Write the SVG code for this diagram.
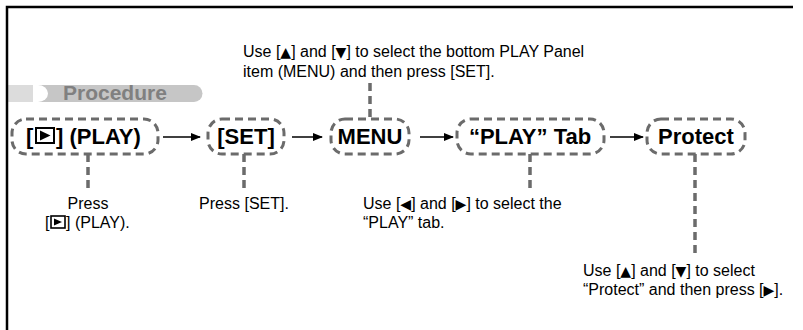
<svg xmlns="http://www.w3.org/2000/svg" width="803" height="330" viewBox="0 0 803 330">
<style>
  text { font-family: "Liberation Sans", Arial, sans-serif; fill: #000; }
  .node-label { font-size: 22px; font-weight: bold; }
  .desc { font-size: 16px; }
  .tri { font-family: "DejaVu Sans", sans-serif; font-size: 14px; }
  .outline { fill: none; stroke: #6b6b6b; stroke-width: 3; stroke-dasharray: 8 5; }
  .lead { fill: none; stroke: #6b6b6b; stroke-width: 3.5; stroke-dasharray: 8 5; }
  .arrow { fill: none; stroke: #000; stroke-width: 1.5; marker-end: url(#ah); }
  .icon { fill: none; stroke: #000; }
</style>
<defs>
  <marker id="ah" viewBox="0 0 10 8" refX="9" refY="4" markerWidth="10" markerHeight="8" markerUnits="userSpaceOnUse" orient="auto">
    <path d="M0,0 L10,4 L0,8 Z" fill="#000"/>
  </marker>
</defs>
<rect width="803" height="330" fill="#fff"/>

<g id="procedure-tab">
  <path d="M8.5,85 H194 A8.5,8.5 0 0 1 194,102 H8.5 Z" fill="#c6c6c6"/>
  <rect x="8.5" y="85" width="24.5" height="17" fill="#dcdcdc"/>
  <path d="M33,85 H38 A10,8.5 0 0 1 38,102 H33 Z" fill="#fff"/>
  <text x="63" y="100" style="font-size:21px;font-weight:bold;fill:#808080">Procedure</text>
</g>
<path d="M7,330 V7 H793" fill="none" stroke="#000" stroke-width="2.5"/>

<g id="connectors">
  <line class="arrow" x1="163" y1="137" x2="200" y2="137"/>
  <line class="arrow" x1="292" y1="137" x2="322" y2="137"/>
  <line class="arrow" x1="420" y1="137" x2="453" y2="137"/>
  <line class="arrow" x1="610" y1="137" x2="643" y2="137"/>
  <line class="lead" x1="88" y1="154" x2="88" y2="192"/>
  <line class="lead" x1="244" y1="154" x2="244" y2="192"/>
  <line class="lead" x1="370" y1="83" x2="370" y2="118"/>
  <line class="lead" x1="530" y1="154" x2="530" y2="190"/>
  <line class="lead" x1="695" y1="154" x2="695" y2="254"/>
</g>

<g id="node-play">
  <rect class="outline" x="12" y="119" width="146" height="35" rx="14"/>
  <text class="node-label" x="26" y="144">[</text>
  <rect class="icon" x="36" y="128" width="18" height="15" stroke-width="2"/>
  <path d="M40,130.5 L40,140.5 L50.5,135.5 Z" fill="#000"/>
  <text class="node-label" x="56" y="144">] (PLAY)</text>
</g>

<g id="node-set">
  <rect class="outline" x="208" y="119" width="76" height="35" rx="14"/>
  <text class="node-label" x="246" y="144" text-anchor="middle">[SET]</text>
</g>

<g id="node-menu">
  <rect class="outline" x="331" y="119" width="78" height="35" rx="14"/>
  <text class="node-label" x="370" y="144" text-anchor="middle">MENU</text>
</g>

<g id="node-playtab">
  <rect class="outline" x="457" y="119" width="147" height="35" rx="14"/>
  <text class="node-label" x="530" y="144" text-anchor="middle">“PLAY” Tab</text>
</g>

<g id="node-protect">
  <rect class="outline" x="647" y="119" width="98" height="35" rx="14"/>
  <text class="node-label" x="696" y="144" text-anchor="middle">Protect</text>
</g>

<g id="note-menu">
  <text class="desc" x="243" y="57">Use [<tspan class="tri">▲</tspan>] and [<tspan class="tri">▼</tspan>] to select the bottom PLAY Panel</text>
  <text class="desc" x="243" y="77">item (MENU) and then press [SET].</text>
</g>

<g id="note-play">
  <text class="desc" x="88" y="209" text-anchor="middle">Press</text>
  <text class="desc" x="45" y="228">[</text>
  <rect class="icon" x="51" y="216" width="14" height="12" stroke-width="1.6"/>
  <path d="M54,218.5 L54,225.5 L62,222 Z" fill="#000"/>
  <text class="desc" x="66" y="228">] (PLAY).</text>
</g>

<g id="note-set">
  <text class="desc" x="244" y="209" text-anchor="middle">Press [SET].</text>
</g>

<g id="note-tab">
  <text class="desc" x="363" y="209">Use [<tspan class="tri">◀</tspan>] and [<tspan class="tri">▶</tspan>] to select the</text>
  <text class="desc" x="363" y="228">“PLAY” tab.</text>
</g>

<g id="note-protect">
  <text class="desc" x="583" y="276">Use [<tspan class="tri">▲</tspan>] and [<tspan class="tri">▼</tspan>] to select</text>
  <text class="desc" x="583" y="295">“Protect” and then press [<tspan class="tri">▶</tspan>].</text>
</g>
</svg>
